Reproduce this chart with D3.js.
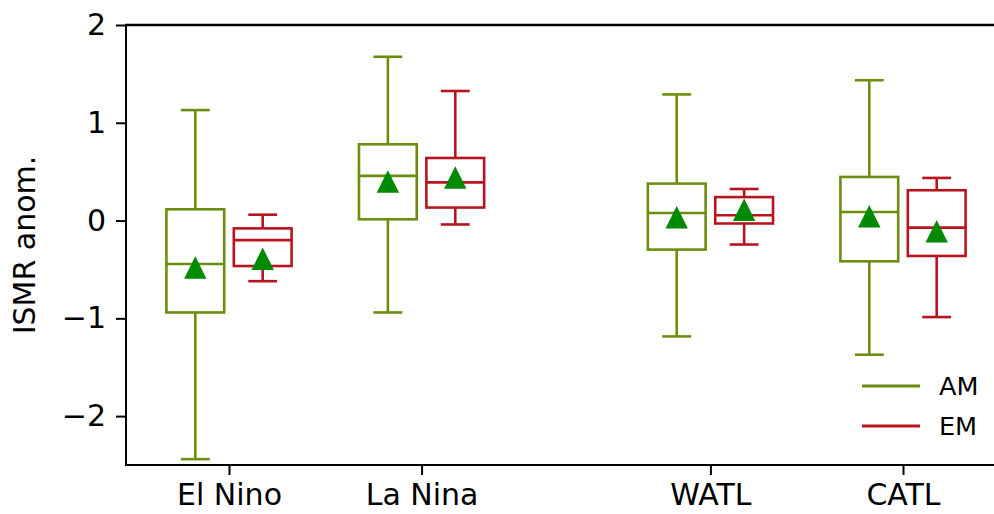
<!DOCTYPE html>
<html>
<head>
<meta charset="utf-8">
<script src="https://cdn.jsdelivr.net/npm/d3@7"></script>
<style>
  html, body { margin: 0; padding: 0; background: #fff; }
  svg { display: block; font-family: "DejaVu Sans", sans-serif; }
</style>
</head>
<body>
<svg id="chart" width="994" height="514"></svg>
<script>
// Regions and their box positions along the x axis
const categories = ["El Nino", "La Nina", "WATL", "CATL"];
const positions = [1, 2, 3.5, 4.5];

// AM: whisker ends, quartiles, median and mean
const amLow    = [-2.44, -0.94, -1.185, -1.372];
const amQ1     = [-0.94, 0.013, -0.297, -0.417];
const amMedian = [-0.445, 0.457, 0.078, 0.088];
const amQ3     = [0.115, 0.78, 0.378, 0.446];
const amHigh   = [1.13, 1.675, 1.29, 1.435];
const amMean   = [-0.48, 0.40, 0.034, 0.044];

// EM: whisker ends, quartiles, median and mean
const emLow    = [-0.62, -0.04, -0.245, -0.987];
const emQ1     = [-0.465, 0.133, -0.03, -0.362];
const emMedian = [-0.20, 0.39, 0.054, -0.072];
const emQ3     = [-0.08, 0.64, 0.24, 0.31];
const emHigh   = [0.06, 1.325, 0.323, 0.436];
const emMean   = [-0.39, 0.44, 0.11, -0.11];

const yTicks = [-2, -1, 0, 1, 2];
const seriesNames = ["AM", "EM"];
const seriesColors = ["#6b8e0f", "#b8141f"];
const meanColor = "#008a00";

const svg = d3.select("#chart");
const W = 994, H = 514;
const plotLeft = 126, plotTop = 25, plotBottom = 465;

const y = d3.scaleLinear().domain([-2.5, 2]).range([plotBottom, plotTop]);
const x = d3.scaleLinear().domain([1, 4.5]).range([229, 903]);

const boxW = x(1.3) - x(1);
const offset = x(1.175) - x(1);

function series(low, q1, med, q3, high, mean) {
  return categories.map((c, i) => ({
    pos: positions[i], low: low[i], q1: q1[i], med: med[i],
    q3: q3[i], high: high[i], mean: mean[i]
  }));
}
const groups = [
  { name: "AM", color: seriesColors[0], shift: -offset,
    data: series(amLow, amQ1, amMedian, amQ3, amHigh, amMean) },
  { name: "EM", color: seriesColors[1], shift: offset,
    data: series(emLow, emQ1, emMedian, emQ3, emHigh, emMean) }
];

// Boxes, whiskers, caps and medians
const lw = 2.6;
groups.forEach(g => {
  const gg = svg.append("g").attr("stroke", g.color).attr("stroke-width", lw).attr("fill", "none");
  g.data.forEach(d => {
    const cx = x(d.pos) + g.shift;
    // whiskers
    gg.append("line").attr("x1", cx).attr("x2", cx).attr("y1", y(d.q3)).attr("y2", y(d.high));
    gg.append("line").attr("x1", cx).attr("x2", cx).attr("y1", y(d.q1)).attr("y2", y(d.low));
    // caps
    gg.append("line").attr("x1", cx - boxW / 4).attr("x2", cx + boxW / 4).attr("y1", y(d.high)).attr("y2", y(d.high));
    gg.append("line").attr("x1", cx - boxW / 4).attr("x2", cx + boxW / 4).attr("y1", y(d.low)).attr("y2", y(d.low));
    // box
    gg.append("rect").attr("x", cx - boxW / 2).attr("y", y(d.q3))
      .attr("width", boxW).attr("height", y(d.q1) - y(d.q3));
    // median
    gg.append("line").attr("x1", cx - boxW / 2).attr("x2", cx + boxW / 2).attr("y1", y(d.med)).attr("y2", y(d.med));
  });
});

// Mean markers (upward triangles centred on the mean)
const tri = 11.2;
groups.forEach(g => {
  svg.append("g").selectAll("path").data(g.data).join("path")
    .attr("d", d => {
      const cx = x(d.pos) + g.shift, cy = y(d.mean);
      return `M${cx},${cy - tri}L${cx + tri},${cy + tri}L${cx - tri},${cy + tri}Z`;
    })
    .attr("fill", meanColor);
});

// Axes
const yAxis = d3.axisLeft(y).tickValues(yTicks).tickSize(10).tickPadding(10).tickFormat(d3.format("d"));
const yg = svg.append("g").attr("transform", `translate(${plotLeft},0)`).call(yAxis);
yg.select(".domain").remove();
yg.selectAll(".tick line").attr("stroke", "#000").attr("stroke-width", 2);
yg.selectAll(".tick text").attr("font-size", 30).attr("fill", "#000")
  .attr("font-family", "DejaVu Sans, sans-serif");

const xAxis = d3.axisBottom(x).tickValues(positions).tickSize(10).tickPadding(9)
  .tickFormat((d, i) => categories[i]);
const xg = svg.append("g").attr("transform", `translate(0,${plotBottom})`).call(xAxis);
xg.select(".domain").remove();
xg.selectAll(".tick line").attr("stroke", "#000").attr("stroke-width", 2);
xg.selectAll(".tick text").attr("font-size", 30).attr("fill", "#000")
  .attr("font-family", "DejaVu Sans, sans-serif");

// Spines: left, bottom and top
svg.append("line").attr("x1", plotLeft).attr("x2", plotLeft).attr("y1", plotTop - 1).attr("y2", plotBottom + 1)
  .attr("stroke", "#000").attr("stroke-width", 2);
svg.append("line").attr("x1", plotLeft - 1).attr("x2", W).attr("y1", plotBottom).attr("y2", plotBottom)
  .attr("stroke", "#000").attr("stroke-width", 2);
svg.append("line").attr("x1", plotLeft - 1).attr("x2", W).attr("y1", plotTop).attr("y2", plotTop)
  .attr("stroke", "#000").attr("stroke-width", 2.4);

// Y axis title
svg.append("text")
  .attr("transform", `translate(35,${(plotTop + plotBottom) / 2}) rotate(-90)`)
  .attr("text-anchor", "middle")
  .attr("font-size", 30)
  .attr("fill", "#000")
  .text("ISMR anom.");

// Legend
const legend = svg.append("g");
seriesNames.forEach((n, i) => {
  const ly = 386 + i * 40;
  legend.append("line").attr("x1", 862).attr("x2", 920).attr("y1", ly).attr("y2", ly)
    .attr("stroke", seriesColors[i]).attr("stroke-width", 3);
  legend.append("text").attr("x", 939).attr("y", ly + 9)
    .attr("font-size", 25.5).attr("fill", "#000").text(n);
});
</script>
</body>
</html>
